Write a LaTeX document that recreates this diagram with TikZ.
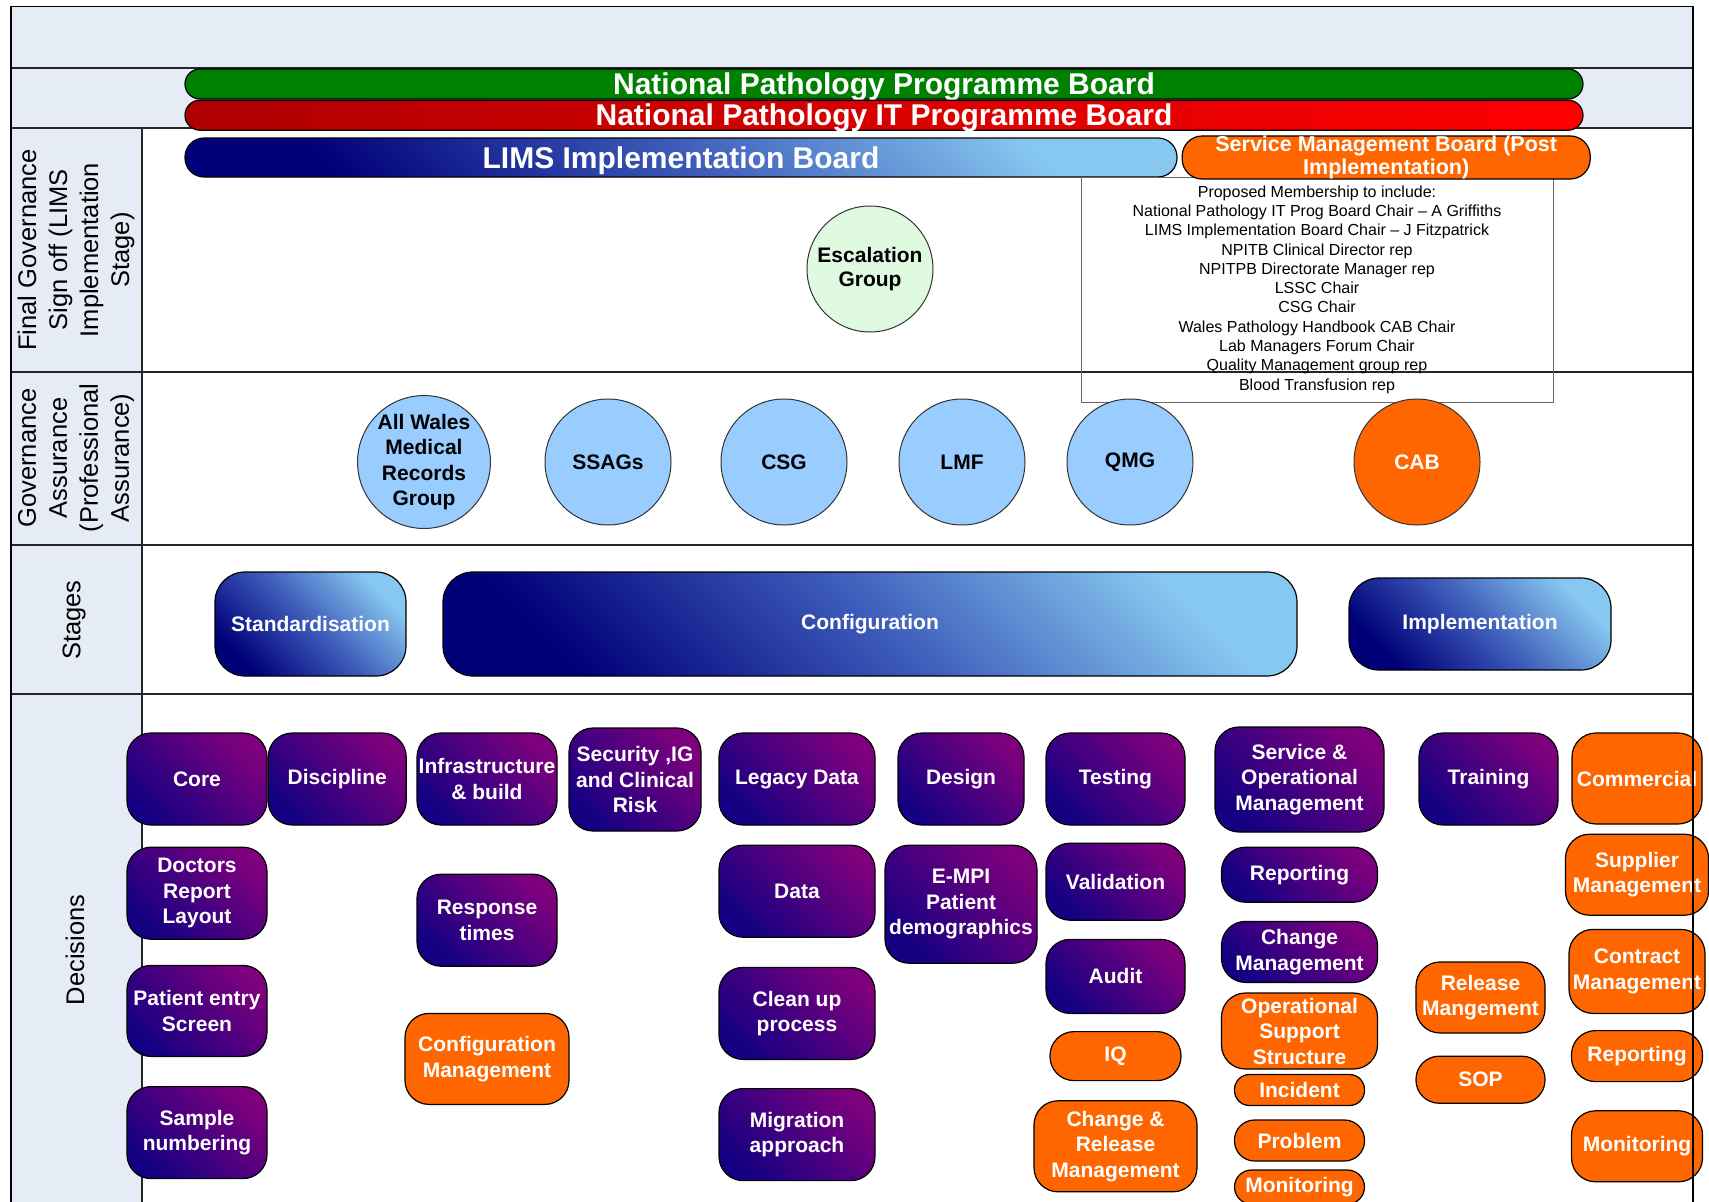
\documentclass[tikz,border=0pt]{standalone}
\usepackage{fontspec}
\setmainfont{Liberation Sans}
\usepackage{tikz}
\usetikzlibrary{positioning}
\definecolor{hdrblue}{RGB}{229,236,246}
\definecolor{npgreen}{RGB}{0,128,0}
\definecolor{npred}{RGB}{255,0,0}
\definecolor{npdkred}{RGB}{175,0,0}
\definecolor{orng}{RGB}{255,102,0}
\definecolor{circblue}{RGB}{153,204,255}
\definecolor{escgreen}{RGB}{224,250,226}
\definecolor{stgdark}{RGB}{0,0,120}
\definecolor{stgmid}{RGB}{60,90,185}
\definecolor{stglight}{RGB}{135,200,240}
\definecolor{purpdark}{RGB}{20,0,130}
\definecolor{purplight}{RGB}{125,0,125}
\tikzset{
    lane/.style={draw=black!85, line width=1.4pt},
    lanelbl/.style={rotate=90, align=center, font=\fontsize{25.5}{31}\selectfont},
    board/.style={rectangle, rounded corners=15pt, draw=black, line width=1.2pt, inner sep=0pt, text=white, font=\fontsize{30}{32}\selectfont\bfseries},
    oneline/.style={text height=21pt, text depth=0pt},
    stage/.style={rectangle, rounded corners=30pt, draw=black, line width=1.2pt, inner sep=0pt, text=white, align=center, font=\fontsize{21}{25}\selectfont\bfseries, bottom color=stgdark, top color=stglight, middle color=stgmid, shading angle=-45},
    circ/.style={circle, draw=black!80, line width=1pt, fill=circblue, minimum size=126pt, inner sep=0pt, align=center, font=\fontsize{21}{25.5}\selectfont\bfseries},
    dec/.style={rectangle, rounded corners=24pt, draw=black, line width=1.2pt, inner sep=0pt, text=white, align=center, font=\fontsize{21}{25.5}\selectfont\bfseries, bottom color=purpdark, top color=purplight, shading angle=-45},
    hdec/.style={rectangle, rounded corners=24pt, draw=black, line width=1.2pt, inner sep=0pt, text=white, align=center, font=\fontsize{21}{25.5}\selectfont\bfseries, fill=orng},
}
\begin{document}
\begin{tikzpicture}[x=1pt, y=1pt]
    \useasboundingbox (0,0) rectangle (1709,-1202);
    \clip (0,0) rectangle (1709,-1202);
    \fill[hdrblue] (11,-6.5) rectangle (1693,-128);
    \fill[hdrblue] (11,-128) rectangle (142,-1210);
    \foreach \y in {68,128,372,545,694}
        \draw[lane] (11,-\y) -- (1693,-\y);
    \draw[lane] (142,-128) -- (142,-1210);

    \node [lanelbl] (lfinal) at (76,-250) {Final Governance\\Sign off (LIMS\\Implementation\\Stage)};
    \node [lanelbl] (lassur) at (76,-458) {Governance\\Assurance\\(Professional\\Assurance)};
    \node [lanelbl] (lstages) at (74,-620) {Stages};
    \node [lanelbl] (ldecis) at (75,-950) {Decisions};

    \node [board, oneline, fill=npgreen, minimum width=1398pt, minimum height=30pt] (npb) at (884,-84) {National Pathology Programme Board};
    \node [board, oneline, left color=npdkred, right color=npred, minimum width=1398pt, minimum height=30pt] (npitb) [below=0pt of npb] {National Pathology IT Programme Board};
    \node [board, oneline, rounded corners=19pt, bottom color=stgdark, top color=stglight, middle color=stgmid, shading angle=-45, minimum width=992pt, minimum height=39pt] (lims) at (681,-157.5) {LIMS Implementation Board};
    \node [draw=black!60, line width=1pt, minimum width=472pt, minimum height=225pt, inner sep=0pt, align=center, font=\fontsize{16}{19.3}\selectfont] (members) at (1317,-289.5) {Proposed Membership to include:\\National Pathology IT Prog Board Chair -- A Griffiths\\LIMS Implementation Board Chair -- J Fitzpatrick\\NPITB Clinical Director rep\\NPITPB Directorate Manager rep\\LSSC Chair\\CSG Chair\\Wales Pathology Handbook CAB Chair\\Lab Managers Forum Chair\\Quality Management group rep\\Blood Transfusion rep};
    \node [board, fill=orng, rounded corners=20pt, align=center, font=\fontsize{21.5}{23}\selectfont\bfseries, minimum width=408pt, minimum height=40pt] (smb) [right=4pt of lims] {Service Management Board (Post\\Implementation)};

    \node [circ, fill=escgreen, font=\fontsize{21}{24}\selectfont\bfseries] (esc) at (870,-269) {Escalation\\Group};
    \node [circ] (awmrg) at (424,-462) {All Wales\\Medical\\Records\\Group};
    \node [circ] (ssag) at (608,-462) {SSAGs};
    \node [circ] (csg) at (784,-462) {CSG};
    \node [circ] (lmf) at (962,-462) {LMF};
    \node [circ] (qmg) at (1130,-462) {QMG};
    \node [circ, fill=orng, text=white] (cab) at (1417,-462) {CAB};

    \node [stage, minimum width=191pt, minimum height=104pt] (std) at (310.5,-624) {Standardisation};
    \node [stage, minimum width=854pt, minimum height=104pt] (config) at (870,-624) {Configuration};
    \node [stage, minimum width=262pt, minimum height=92pt] (impl) at (1480,-624) {Implementation};

    \node [dec, minimum width=140pt, minimum height=92pt] (core) at (197,-779) {Core};
    \node [dec, minimum width=140pt, minimum height=92pt] (doctors) [below=21pt of core] {Doctors\\Report\\Layout};
    \node [dec, minimum width=140pt, minimum height=91pt] (patient) [below=25pt of doctors] {Patient entry\\Screen};
    \node [dec, minimum width=140pt, minimum height=92pt] (sample) [below=29pt of patient] {Sample\\numbering};
    \node [dec, minimum width=138pt, minimum height=92pt] (discipline) [right=0pt of core] {Discipline};
    \node [dec, minimum width=140pt, minimum height=92pt] (infra) at (487,-779) {Infrastructure\\\& build};
    \node [dec, minimum width=140pt, minimum height=92pt] (response) [below=48pt of infra] {Response\\times};
    \node [hdec, minimum width=164pt, minimum height=91pt] (confmgmt) [below=46pt of response] {Configuration\\Management};
    \node [dec, minimum width=132pt, minimum height=103pt] (security) at (635,-779.5) {Security ,IG\\and Clinical\\Risk};
    \node [dec, minimum width=156pt, minimum height=92pt] (legacy) at (797,-779) {Legacy Data};
    \node [dec, minimum width=156pt, minimum height=92pt] (data) [below=19pt of legacy] {Data};
    \node [dec, minimum width=156pt, minimum height=92pt] (cleanup) [below=29pt of data] {Clean up\\process};
    \node [dec, minimum width=156pt, minimum height=92pt] (migration) [below=28pt of cleanup] {Migration\\approach};
    \node [dec, minimum width=126pt, minimum height=92pt] (design) at (961,-779) {Design};
    \node [dec, minimum width=152pt, minimum height=118pt] (empi) [below=19pt of design] {E-MPI\\Patient\\demographics};
    \node [dec, minimum width=139pt, minimum height=92pt] (testing) at (1115.5,-779) {Testing};
    \node [dec, minimum width=139pt, minimum height=77pt] (validation) [below=17pt of testing] {Validation};
    \node [dec, minimum width=139pt, minimum height=74pt] (audit) [below=18pt of validation] {Audit};
    \node [hdec, minimum width=131pt, minimum height=49pt] (iq) [below=17pt of audit] {IQ};
    \node [hdec, minimum width=163pt, minimum height=91pt] (chrel) [below=19pt of iq] {Change \&\\Release\\Management};
    \node [dec, minimum width=169pt, minimum height=105pt] (service) at (1299.5,-779.5) {Service \&\\Operational\\Management};
    \node [dec, minimum width=156pt, minimum height=55pt] (reporta) [below=14pt of service] {Reporting};
    \node [dec, minimum width=156pt, minimum height=61pt] (changemgmt) [below=18pt of reporta] {Change\\Management};
    \node [hdec, minimum width=156pt, minimum height=76pt] (opsupport) at (1299.5,-1031) {Operational\\Support\\Structure};
    \node [hdec, rounded corners=15pt, minimum width=130pt, minimum height=31pt] (incident) at (1299.5,-1090) {Incident};
    \node [hdec, rounded corners=20pt, minimum width=130pt, minimum height=41pt] (problem) at (1299.5,-1140.5) {Problem};
    \node [hdec, rounded corners=17pt, minimum width=130pt, minimum height=34pt] (monitora) at (1299.5,-1187) {Monitoring};
    \node [dec, minimum width=139pt, minimum height=92pt] (training) at (1488.5,-779) {Training};
    \node [hdec, minimum width=129pt, minimum height=71pt] (release) at (1480.5,-997.5) {Release\\Mangement};
    \node [hdec, rounded corners=23pt, minimum width=129pt, minimum height=47pt] (sop) [below=22pt of release] {SOP};
    \node [hdec, minimum width=130pt, minimum height=91pt] (commercial) at (1637,-778.5) {Commercial};
    \node [hdec, minimum width=143pt, minimum height=81pt] (supplier) [below=9pt of commercial] {Supplier\\Management};
    \node [hdec, minimum width=136pt, minimum height=84pt] (contract) [below=13pt of supplier] {Contract\\Management};
    \node [hdec, minimum width=131pt, minimum height=51pt] (reportb) [below=16pt of contract] {Reporting};
    \node [hdec, minimum width=131pt, minimum height=71pt] (monitorb) [below=28pt of reportb] {Monitoring};

    \draw[line width=1.8pt] (11,-1210) -- (11,-6.5) -- (1693,-6.5) -- (1693,-1210);
\end{tikzpicture}
\end{document}
